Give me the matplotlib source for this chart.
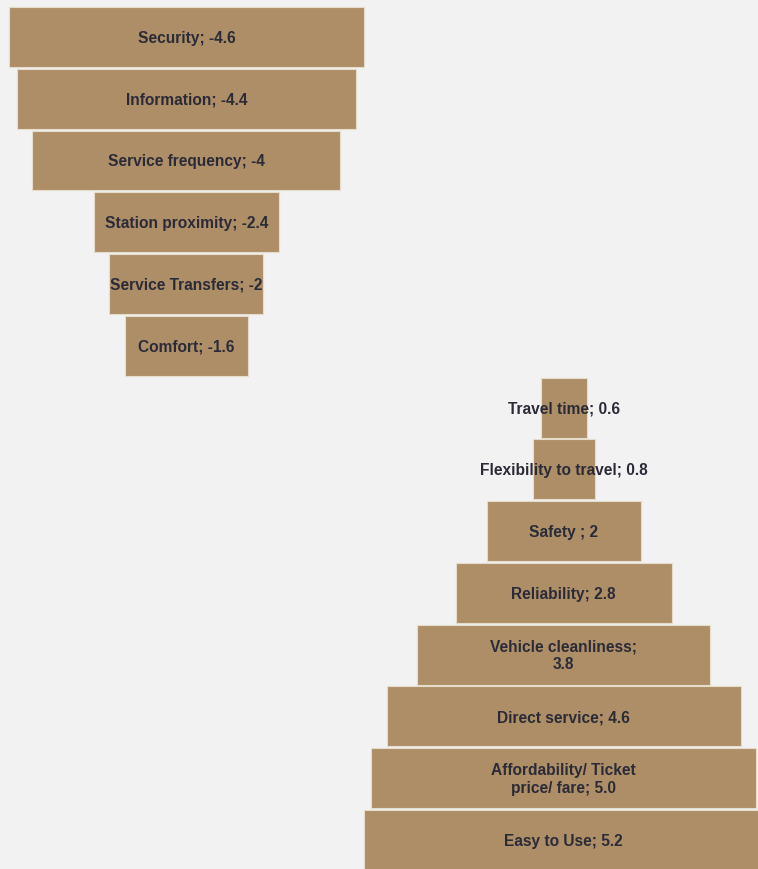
import matplotlib.pyplot as plt

plt.rcParams['font.family'] = ['Liberation Sans', 'DejaVu Sans']

labels = ["Security; -4.6", "Information; -4.4", "Service frequency; -4",
          "Station proximity; -2.4", "Service Transfers; -2", "Comfort; -1.6",
          "Travel time; 0.6", "Flexibility to travel; 0.8", "Safety ; 2",
          "Reliability; 2.8", "Vehicle cleanliness;\n3.8", "Direct service; 4.6",
          "Affordability/ Ticket\nprice/ fare; 5.0", "Easy to Use; 5.2"]
values = [-4.6, -4.4, -4.0, -2.4, -2.0, -1.6,
          0.6, 0.8, 2.0, 2.8, 3.8, 4.6, 5.0, 5.2]

bar_color = "#ad8e67"
bg = "#f2f2f2"

# negatives are centred on half the largest drop, positives on half the largest gain
neg_c = min(values) / 2
pos_c = max(values) / 2

fig = plt.figure(figsize=(7.58, 8.69), dpi=100, facecolor=bg)
ax = fig.add_axes([0, 0, 1, 1])
ax.set_facecolor(bg)

for i, (lab, v) in enumerate(zip(labels, values)):
    c = neg_c if v < 0 else pos_c
    w = abs(v)
    ax.barh(i, w, left=c - w / 2, height=0.97, color=bar_color,
            edgecolor="#e6dccb", linewidth=0.8)
    ax.text(c, i + 0.02, lab, ha="center", va="center", fontsize=11.2,
            fontweight="bold", color="#2b2b38", linespacing=1.25)

ax.set_xlim(-4.721, 5.123)
ax.set_ylim(13.47, -0.599)
ax.axis("off")

fig.savefig("out.png", dpi=100, facecolor=bg)
